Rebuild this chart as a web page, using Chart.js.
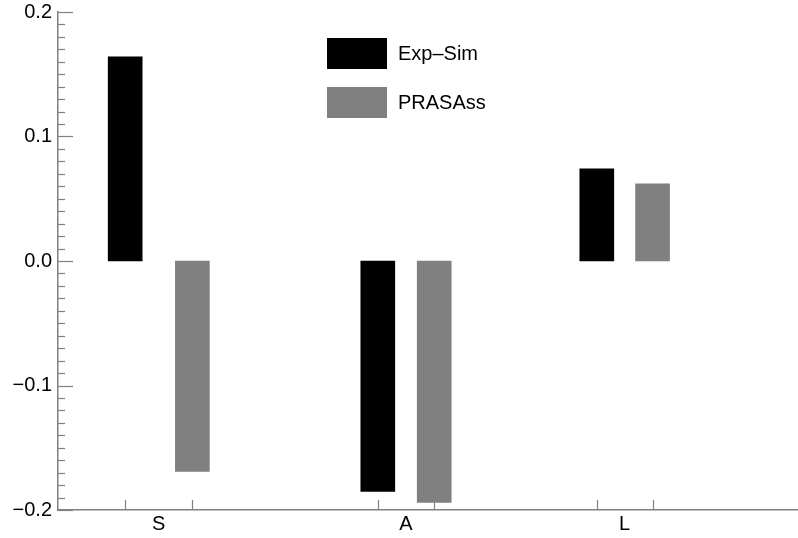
<!DOCTYPE html>
<html>
<head>
<meta charset="utf-8">
<script src="https://cdn.jsdelivr.net/npm/chart.js@4/dist/chart.umd.min.js"></script>
<style>
  html, body { margin: 0; padding: 0; background: #ffffff; }
  #wrap { width: 798px; height: 538px; }
</style>
</head>
<body>
<div id="wrap"><canvas id="c" width="798" height="538"></canvas></div>
<script>
// ---- data ----
const categories = ['S', 'A', 'L'];
const seriesNames = ['Exp\u2013Sim', 'PRASAss'];
const expSim = [0.164, -0.185, 0.074];
const prasass = [-0.169, -0.194, 0.062];
// bar slots on the horizontal data axis (data units)
const expSimSlot = [1, 4.76, 8.02];
const prasassSlot = [2, 5.6, 8.85];
const xRange = [0, 11];
const yRange = [-0.2, 0.2];
const yTickValues = [-0.2, -0.1, 0.0, 0.1, 0.2];

const AXIS = '#808080';
const FONT = "'Liberation Sans', Arial, Helvetica, sans-serif";

const labelSlot = categories.map((c, i) => (expSimSlot[i] + prasassSlot[i]) / 2);

function fmt(v) {
  if (Math.abs(v) < 1e-9) return '0.0';
  return (v < 0 ? '\u2212' : '') + Math.abs(v).toFixed(1);
}

const tickPlugin = {
  id: 'inwardTicks',
  afterDatasetsDraw(chart) {
    const ctx = chart.ctx;
    const ys = chart.scales.y, xs = chart.scales.x;
    const left = chart.chartArea.left, bottom = chart.chartArea.bottom;
    ctx.save();
    ctx.strokeStyle = AXIS;
    ctx.lineWidth = 1.2;
    // y ticks: minor every 0.01, major every 0.1
    for (let k = -20; k <= 20; k++) {
      const v = k / 100;
      const py = Math.round(ys.getPixelForValue(v)) + 0.5;
      const len = (k % 10 === 0) ? 15 : 7;
      ctx.beginPath();
      ctx.moveTo(left, py);
      ctx.lineTo(left + len, py);
      ctx.stroke();
    }
    // x ticks at bar slots
    [...expSimSlot, ...prasassSlot].forEach(s => {
      const px = Math.round(xs.getPixelForValue(s)) + 0.5;
      ctx.beginPath();
      ctx.moveTo(px, bottom);
      ctx.lineTo(px, bottom - 10);
      ctx.stroke();
    });
    ctx.restore();
  },
  afterDraw(chart) {
    // legend
    const ctx = chart.ctx;
    const boxX = 327, boxW = 60, boxH = 31;
    const rows = [38, 87];
    ctx.save();
    ctx.font = '20px ' + FONT;
    ctx.textBaseline = 'middle';
    ctx.textAlign = 'left';
    chart.data.datasets.forEach((ds, i) => {
      ctx.fillStyle = ds.backgroundColor;
      ctx.fillRect(boxX, rows[i], boxW, boxH);
      ctx.fillStyle = '#000';
      ctx.fillText(ds.label, boxX + boxW + 11, rows[i] + boxH / 2 + 1);
    });
    ctx.restore();
  }
};

new Chart(document.getElementById('c'), {
  type: 'bar',
  data: {
    datasets: [
      {
        label: seriesNames[0],
        data: expSim.map((v, i) => ({ x: expSimSlot[i], y: v })),
        backgroundColor: '#000000',
        borderWidth: 0,
        barThickness: 34,
        grouped: false
      },
      {
        label: seriesNames[1],
        data: prasass.map((v, i) => ({ x: prasassSlot[i], y: v })),
        backgroundColor: '#808080',
        borderWidth: 0,
        barThickness: 34,
        grouped: false
      }
    ]
  },
  options: {
    responsive: false,
    animation: false,
    layout: { padding: { top: 12, right: 1, bottom: 0, left: 0 } },
    plugins: { legend: { display: false }, tooltip: { enabled: false } },
    scales: {
      x: {
        type: 'linear',
        min: xRange[0],
        max: xRange[1],
        offset: false,
        grid: { display: false, drawTicks: false },
        border: { display: true, color: AXIS, width: 1.5 },
        afterBuildTicks: s => { s.ticks = labelSlot.map(v => ({ value: v })); },
        afterFit: s => { s.height = 28; s.paddingLeft = 0; s.paddingRight = 0; },
        ticks: {
          autoSkip: false,
          maxRotation: 0,
          padding: 2,
          color: '#000',
          font: { family: FONT, size: 20 },
          callback: (v, i) => categories[i]
        }
      },
      y: {
        min: yRange[0],
        max: yRange[1],
        grid: { display: false, drawTicks: false },
        border: { display: true, color: AXIS, width: 1.5 },
        afterBuildTicks: s => { s.ticks = yTickValues.map(v => ({ value: v })); },
        afterFit: s => { s.width = 58; s.paddingTop = 0; s.paddingBottom = 0; },
        ticks: {
          padding: 6,
          color: '#000',
          font: { family: FONT, size: 20 },
          callback: v => fmt(v)
        }
      }
    }
  },
  plugins: [tickPlugin]
});
</script>
</body>
</html>
